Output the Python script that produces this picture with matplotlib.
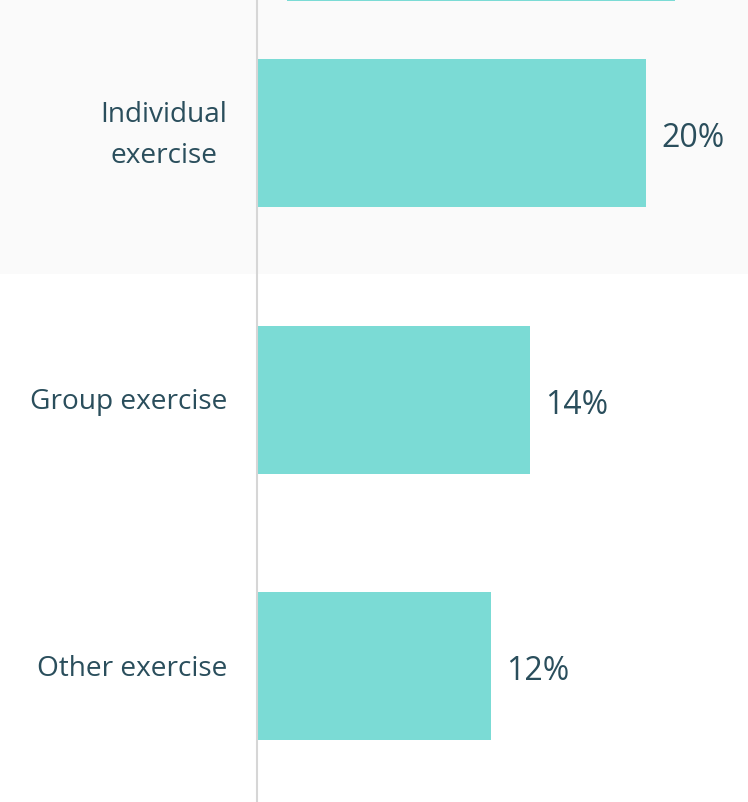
import matplotlib
matplotlib.use("Agg")
import matplotlib.pyplot as plt

categories = ["Individual\nexercise", "Group exercise", "Other exercise"]
values = [20, 14, 12]
value_labels = ["20%", "14%", "12%"]

# partially visible bar from the row above
top_bar_left = 1.5
top_bar_value = 20

bar_color = "#7BDBD5"
text_color = "#2A4E5C"

plt.rcParams["font.family"] = ["Open Sans", "DejaVu Sans"]

fig = plt.figure(figsize=(7.48, 8.03), dpi=100)
ax = fig.add_axes([0, 0, 1, 1])
ax.set_xlim(-13.3, 25.26)
ax.set_ylim(2.51, -0.503)

ax.axhspan(-0.503, 0.53, color="#FAFAFA", zorder=0, lw=0)

ax.barh(-0.6, top_bar_value, left=top_bar_left, height=0.21, color=bar_color, zorder=2)
ypos = list(range(len(values)))
ax.barh(ypos, values, height=0.555, color=bar_color, zorder=2)

ax.axvline(-0.05, color="#D6D6D6", lw=1.5, zorder=3)

for y, v, lab, cat in zip(ypos, values, value_labels, categories):
    ax.text(v + 0.8, y + 0.018, lab, va="center", ha="left", fontsize=23, color=text_color)
    ax.text(-1.6, y + 0.006, cat, va="center", ha="right", fontsize=20.2, color=text_color,
            multialignment="center", linespacing=1.6)

ax.axis("off")
fig.savefig("out.png", dpi=100)
